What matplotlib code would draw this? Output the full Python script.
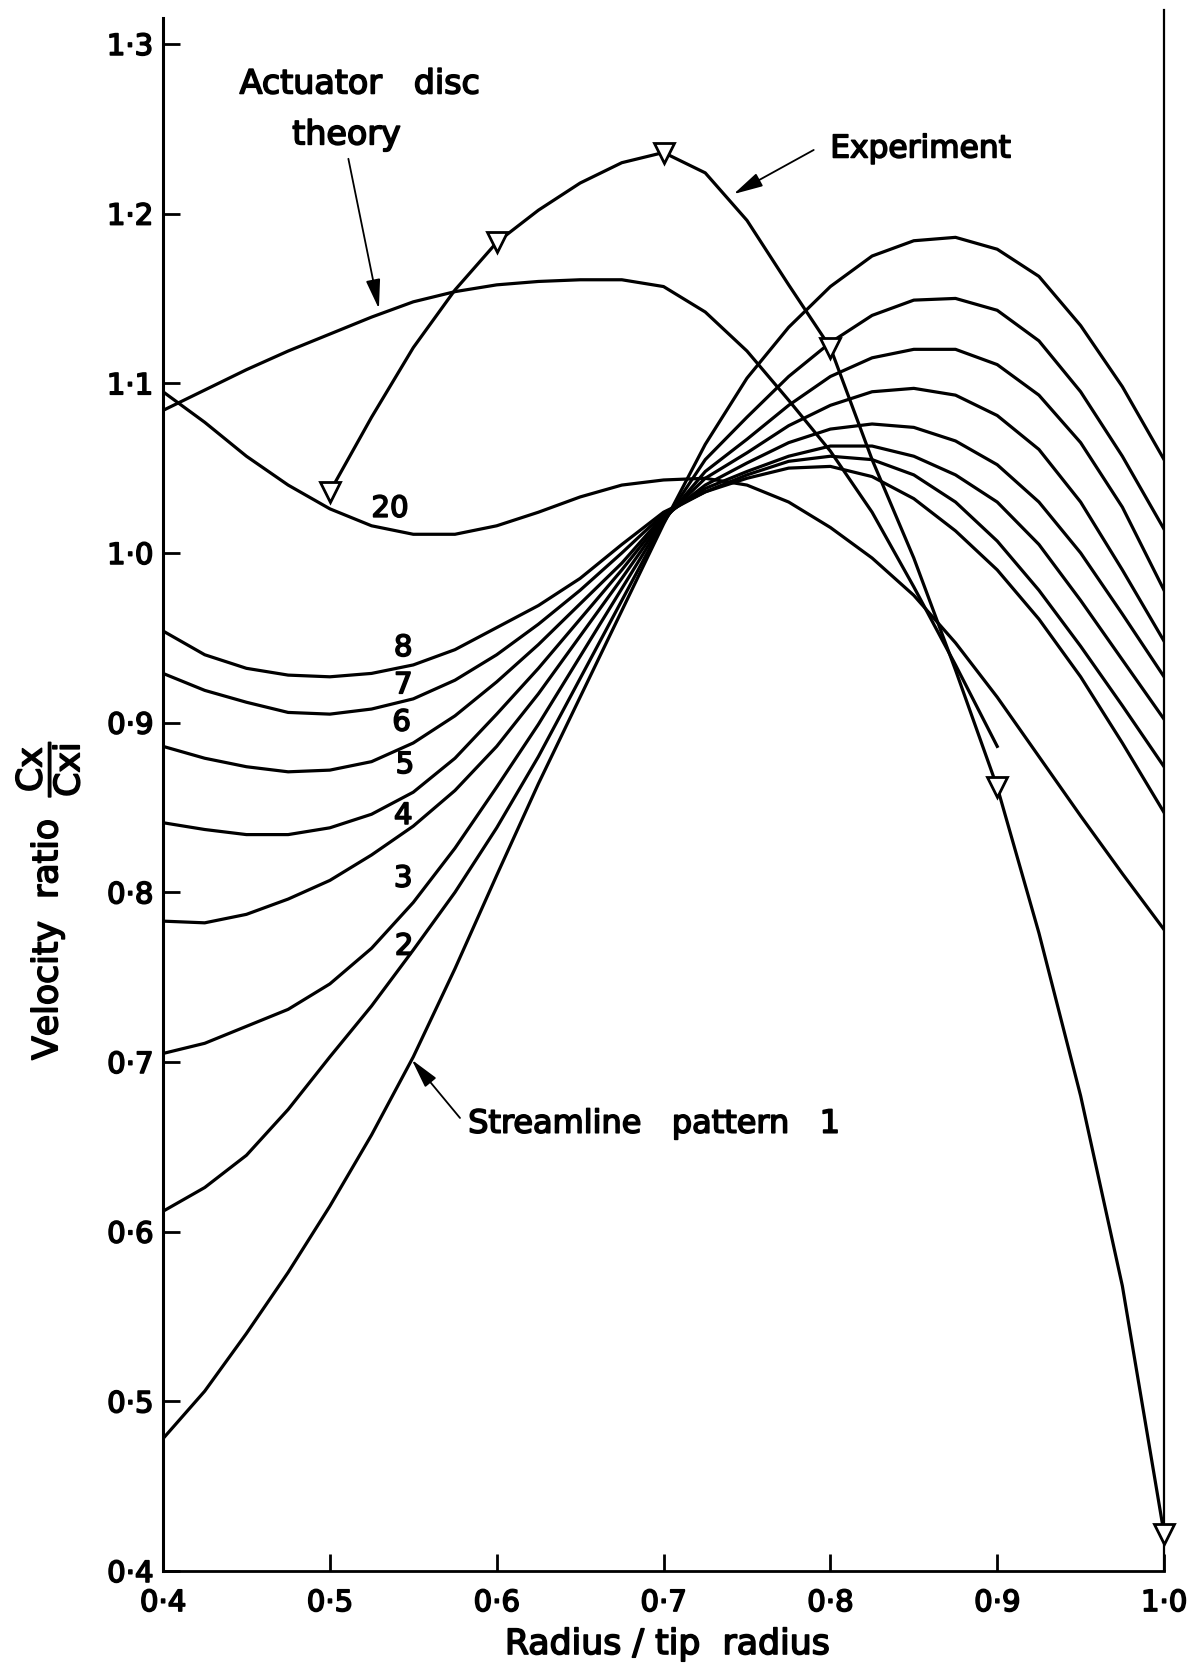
import matplotlib
matplotlib.use('Agg')
import matplotlib.pyplot as plt
import matplotlib.patheffects as pe

plt.rcParams['font.family'] = ['DejaVu Sans']
plt.rcParams['mathtext.fontset'] = 'dejavusans'

# radius / tip radius
r = [0.400, 0.425, 0.450, 0.475, 0.500, 0.525, 0.550, 0.575, 0.600, 0.625,
     0.650, 0.675, 0.700, 0.725, 0.750, 0.775, 0.800, 0.825, 0.850, 0.875,
     0.900, 0.925, 0.950, 0.975, 1.000]

# streamline patterns (velocity ratio Cx/Cxi)
s1 = [0.478, 0.506, 0.540, 0.576, 0.615, 0.657, 0.703, 0.755, 0.810, 0.864,
      0.915, 0.966, 1.017, 1.064, 1.103, 1.133, 1.157, 1.175, 1.184, 1.186,
      1.179, 1.163, 1.134, 1.098, 1.055]
s2 = [0.612, 0.626, 0.645, 0.672, 0.703, 0.733, 0.766, 0.800, 0.838, 0.880,
      0.926, 0.972, 1.018, 1.055, 1.080, 1.104, 1.124, 1.140, 1.149, 1.150,
      1.143, 1.125, 1.095, 1.057, 1.014]
s3 = [0.705, 0.711, 0.721, 0.731, 0.746, 0.767, 0.794, 0.826, 0.862, 0.899,
      0.939, 0.979, 1.019, 1.048, 1.067, 1.087, 1.104, 1.115, 1.120, 1.120,
      1.111, 1.093, 1.065, 1.027, 0.978]
s4 = [0.783, 0.782, 0.787, 0.796, 0.807, 0.822, 0.839, 0.860, 0.886, 0.917,
      0.951, 0.985, 1.020, 1.044, 1.059, 1.075, 1.087, 1.095, 1.097, 1.093,
      1.081, 1.061, 1.030, 0.990, 0.948]
s5 = [0.841, 0.837, 0.834, 0.834, 0.838, 0.846, 0.859, 0.879, 0.905, 0.932,
      0.961, 0.990, 1.021, 1.040, 1.053, 1.065, 1.073, 1.076, 1.074, 1.066,
      1.052, 1.030, 1.000, 0.964, 0.927]
s6 = [0.886, 0.879, 0.874, 0.871, 0.872, 0.877, 0.888, 0.904, 0.924, 0.946,
      0.970, 0.994, 1.022, 1.038, 1.048, 1.057, 1.063, 1.063, 1.057, 1.046,
      1.030, 1.005, 0.972, 0.937, 0.902]
s7 = [0.929, 0.919, 0.912, 0.906, 0.905, 0.908, 0.914, 0.925, 0.940, 0.958,
      0.978, 1.000, 1.023, 1.036, 1.046, 1.054, 1.057, 1.055, 1.046, 1.030,
      1.007, 0.978, 0.945, 0.910, 0.874]
s8 = [0.954, 0.940, 0.932, 0.928, 0.927, 0.929, 0.934, 0.943, 0.956, 0.969,
      0.985, 1.005, 1.024, 1.036, 1.044, 1.050, 1.051, 1.045, 1.032, 1.013,
      0.990, 0.961, 0.927, 0.888, 0.847]
s20 = [1.095, 1.077, 1.057, 1.040, 1.026, 1.016, 1.011, 1.011, 1.016, 1.024,
       1.033, 1.040, 1.043, 1.044, 1.040, 1.030, 1.015, 0.997, 0.975, 0.947,
       0.915, 0.880, 0.845, 0.811, 0.778]

# actuator disc theory
ad_r = r[:21]
ad = [1.084, 1.096, 1.108, 1.119, 1.129, 1.139, 1.148, 1.154, 1.158, 1.160,
      1.161, 1.161, 1.157, 1.142, 1.119, 1.090, 1.060, 1.024, 0.980, 0.934,
      0.886]

# experiment
exp_r = r[4:]
exp_v = [1.036, 1.080, 1.121, 1.155, 1.183, 1.202, 1.218, 1.230, 1.236, 1.224,
         1.196, 1.158, 1.121, 1.055, 0.997, 0.931, 0.862, 0.776, 0.680, 0.568,
         0.422]
exp_pts_r = [0.5, 0.6, 0.7, 0.8, 0.9, 1.0]
exp_pts_v = [1.036, 1.183, 1.236, 1.121, 0.862, 0.422]

curve_labels = ['2', '3', '4', '5', '6', '7', '8', '20']
label_x = [0.5445, 0.544, 0.544, 0.545, 0.543, 0.544, 0.544, 0.536]
label_y = [0.768, 0.808, 0.845, 0.875, 0.900, 0.922, 0.944, 1.026]

xticks = [0.4, 0.5, 0.6, 0.7, 0.8, 0.9, 1.0]
xticklabels = ['0·4', '0·5', '0·6', '0·7', '0·8', '0·9', '1·0']
yticks = [0.4, 0.5, 0.6, 0.7, 0.8, 0.9, 1.0, 1.1, 1.2, 1.3]
yticklabels = ['0·4', '0·5', '0·6', '0·7', '0·8', '0·9', '1·0', '1·1', '1·2', '1·3']

# slightly heavier lettering, like the drawn originals
heavy = [pe.withStroke(linewidth=1.2, foreground='black')]

fig = plt.figure(figsize=(11.96, 16.64), dpi=100)
ax = fig.add_axes([0.1363, 0.0559, 0.8370, 0.9381])

lw = 2.3
for s in [s1, s2, s3, s4, s5, s6, s7, s8, s20]:
    ax.plot(r, s, color='black', lw=lw, solid_joinstyle='round')
ax.plot(ad_r, ad, color='black', lw=lw, solid_joinstyle='round')
ax.plot(exp_r, exp_v, color='black', lw=lw, solid_joinstyle='round')
ax.plot(exp_pts_r, exp_pts_v, linestyle='none', marker='v', ms=15,
        mfc='white', mec='black', mew=2, zorder=5, clip_on=False)

for t, x, y in zip(curve_labels, label_x, label_y):
    ax.text(x, y, t, fontsize=21, ha='center', va='center', path_effects=heavy)

ax.text(0.518, 1.2764, 'Actuator   disc', fontsize=24, ha='center', va='center',
        path_effects=heavy)
ax.text(0.510, 1.2464, 'theory', fontsize=24, ha='center', va='center',
        path_effects=heavy)
ax.text(0.8541, 1.2381, 'Experiment', fontsize=22.5, ha='center', va='center',
        path_effects=heavy)
ax.text(0.5829, 0.6583, 'Streamline   pattern   1', fontsize=23,
        ha='left', va='baseline', path_effects=heavy)

arrow = dict(arrowstyle='-|>,head_length=0.9,head_width=0.22', color='black',
             lw=1.3, shrinkA=0, shrinkB=0, mutation_scale=20)
ax.annotate('', xy=(0.5294, 1.1439), xytext=(0.5111, 1.2323), arrowprops=arrow)
ax.annotate('', xy=(0.742, 1.2115), xytext=(0.790, 1.2375), arrowprops=arrow)
ax.annotate('', xy=(0.5491, 0.7013), xytext=(0.578, 0.667), arrowprops=arrow)

ax.set_xlim(0.4, 1.0)
ax.set_ylim(0.4, 1.32)
ax.set_xticks(xticks)
ax.set_xticklabels(xticklabels)
ax.set_yticks(yticks)
ax.set_yticklabels(yticklabels)
ax.tick_params(direction='in', length=12, width=2, labelsize=21)
ax.tick_params(axis='x', pad=13)
ax.tick_params(axis='y', pad=7)
for lbl in ax.get_xticklabels() + ax.get_yticklabels():
    lbl.set_path_effects(heavy)

ax.spines['top'].set_visible(False)
ax.spines['left'].set_linewidth(2.2)
ax.spines['left'].set_bounds(0.4, 1.315)
ax.spines['bottom'].set_linewidth(2)
ax.spines['right'].set_linewidth(1.6)

fig.text(0.558, 0.006, 'Radius / tip  radius', fontsize=25, ha='center',
         va='baseline', path_effects=heavy)
fig.text(48 / 1196, 0.4591, r'Velocity  ratio  $\dfrac{\mathrm{Cx}}{\mathrm{Cxi}}$',
         fontsize=25, rotation=90, ha='center', va='center', path_effects=heavy)

fig.savefig('out.png', dpi=100)
